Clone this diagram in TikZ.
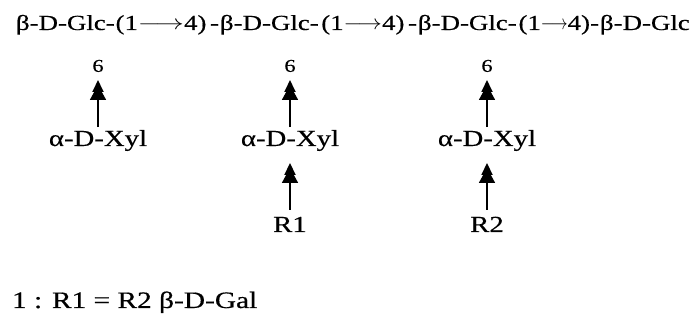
\documentclass[tikz,border=0pt]{standalone}
\usepackage{fontspec}
\setmainfont[FakeStretch=1.25,FakeBold=0.5]{Liberation Serif}
\usetikzlibrary{arrows.meta}
\newcommand{\lnkarrow}[1]{\scalebox{#1}[1]{$\longrightarrow$}}
\begin{document}
\begin{tikzpicture}[x=1pt,y=-1pt,
  chain/.style={inner sep=0pt,outer sep=0pt,font=\fontsize{21.5}{24}\selectfont,anchor=base west},
  chainr/.style={inner sep=0pt,outer sep=0pt,font=\fontsize{21.5}{24}\selectfont,anchor=base east},
  txt/.style={inner sep=0pt,outer sep=0pt,font=\fontsize{23}{25}\selectfont},
  num/.style={inner sep=0pt,outer sep=0pt,font=\fontsize{18}{20}\selectfont,anchor=south},
  rlab/.style={inner sep=0pt,outer sep=0pt,font=\fontsize{23}{25}\selectfont,anchor=base},
  link/.style={line width=1.8pt,-{Triangle[length=15pt,width=16pt,sep=-7pt] Triangle[length=12pt,width=11pt]}}
]
\useasboundingbox (0,0) rectangle (699,328);
% main chain
\node[chain] (g1) at (16,30) {β-D-Glc-};
\node[chainr] (k1) at (219,30) {(1\lnkarrow{1.38}4)\,-};
\node[chain] (g2) at (220,30) {β-D-Glc-};
\node[chainr] (k2) at (417,30) {(1\lnkarrow{1.15}4)\,-};
\node[chain] (g3) at (418,30) {β-D-Glc-};
\node[chainr] (k3) at (599,30) {(1\lnkarrow{0.8}4)-};
\node[chain] (g4) at (600,30) {β-D-Glc};
% branch positions
\node[num] (s1) at (98,72) {6};
\node[num] (s2) at (290,72) {6};
\node[num] (s3) at (487,72) {6};
\node[txt,anchor=base] (x1) at (98,146) {α-D-Xyl};
\node[txt,anchor=base] (x2) at (290,146) {α-D-Xyl};
\node[txt,anchor=base] (x3) at (487,146) {α-D-Xyl};
\node[rlab] (r1) at (290,232) {R1};
\node[rlab] (r2) at (487,232) {R2};
% arrows
\draw[link,shorten <=3pt,shorten >=8pt] (x1) -- (s1);
\draw[link,shorten <=3pt,shorten >=8pt] (x2) -- (s2);
\draw[link,shorten <=3pt,shorten >=8pt] (x3) -- (s3);
\draw[link,shorten <=7pt,shorten >=12pt] (r1) -- (x2);
\draw[link,shorten <=7pt,shorten >=12pt] (r2) -- (x3);
% legend
\node[txt,anchor=base west,font=\fontsize{23.5}{25}\selectfont] (leg) at (12,308) {1 : R1 = R2 β-D-Gal};
\end{tikzpicture}
\end{document}
